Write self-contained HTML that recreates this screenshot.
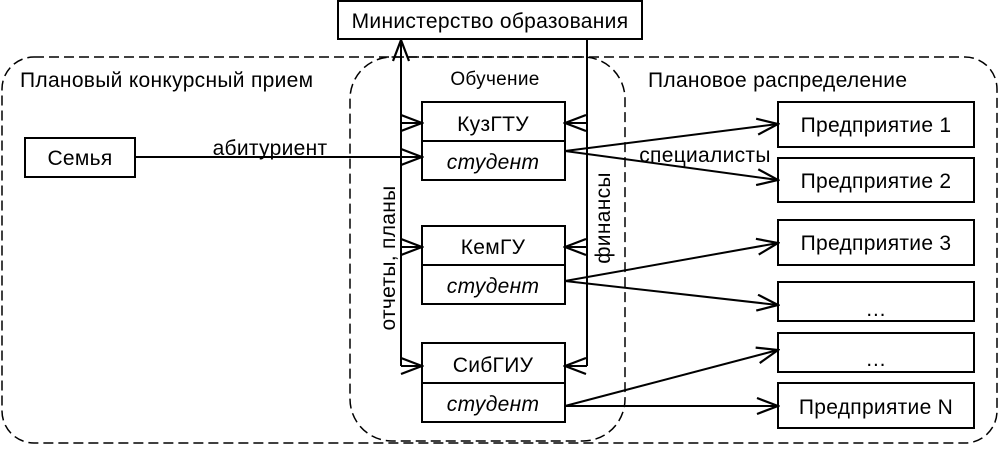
<!DOCTYPE html>
<html><head><meta charset="utf-8"><style>
body{margin:0;background:#fff}
text{font-family:"Liberation Sans",sans-serif;font-size:21px;letter-spacing:0.3px;fill:#000}
</style></head><body>
<svg width="999" height="446" viewBox="0 0 999 446" xmlns="http://www.w3.org/2000/svg">
<defs><marker id="a" markerWidth="24" markerHeight="18" refX="22" refY="9" orient="auto" markerUnits="userSpaceOnUse"><path d="M1,1 L22,9 L1,17" fill="none" stroke="#000" stroke-width="2.2"/></marker></defs>
<g fill="none" stroke="#000" stroke-width="1.5" stroke-dasharray="10,5">
<rect x="2" y="57" width="995" height="386" rx="32"/>
<rect x="350" y="57" width="275" height="384" rx="42"/>
</g>
<g fill="#fff" stroke="#000" stroke-width="2">
<rect x="338" y="1" width="304" height="38"/>
<rect x="25" y="138" width="110" height="39"/>
<rect x="422" y="102" width="143" height="78"/>
<rect x="422" y="226" width="143" height="78"/>
<rect x="422" y="343" width="143" height="79"/>
<rect x="778" y="102" width="196" height="45"/>
<rect x="778" y="158" width="196" height="44"/>
<rect x="778" y="220" width="196" height="45"/>
<rect x="778" y="282" width="196" height="39"/>
<rect x="778" y="333" width="196" height="39"/>
<rect x="778" y="383" width="196" height="45"/>
</g>
<g stroke="#000" stroke-width="2" fill="none">
<line x1="422" y1="141" x2="565" y2="141"/>
<line x1="422" y1="265" x2="565" y2="265"/>
<line x1="422" y1="383" x2="565" y2="383"/>
<line x1="401" y1="366" x2="401" y2="40" marker-end="url(#a)"/>
<line x1="401" y1="123" x2="422" y2="123" marker-end="url(#a)"/>
<line x1="401" y1="247" x2="422" y2="247" marker-end="url(#a)"/>
<line x1="401" y1="366" x2="422" y2="366" marker-end="url(#a)"/>
<line x1="587" y1="39" x2="587" y2="366"/>
<line x1="587" y1="123" x2="565" y2="123" marker-end="url(#a)"/>
<line x1="587" y1="247" x2="565" y2="247" marker-end="url(#a)"/>
<line x1="587" y1="366" x2="565" y2="366" marker-end="url(#a)"/>
<line x1="135" y1="157" x2="422" y2="157" marker-end="url(#a)"/>
<line x1="565" y1="151" x2="778" y2="124" marker-end="url(#a)"/>
<line x1="565" y1="151" x2="778" y2="180" marker-end="url(#a)"/>
<line x1="565" y1="281" x2="778" y2="243" marker-end="url(#a)"/>
<line x1="565" y1="281" x2="778" y2="305" marker-end="url(#a)"/>
<line x1="565" y1="406" x2="778" y2="350" marker-end="url(#a)"/>
<line x1="565" y1="406" x2="778" y2="406" marker-end="url(#a)"/>
</g>
<text x="490" y="28" text-anchor="middle">Министерство образования</text>
<text x="20" y="87">Плановый конкурсный прием</text>
<text x="648" y="87">Плановое распределение</text>
<text x="495" y="85" text-anchor="middle" style="font-size:19px">Обучение</text>
<text x="80" y="165" text-anchor="middle">Семья</text>
<text x="270" y="155" text-anchor="middle">абитуриент</text>
<text x="493" y="131" text-anchor="middle">КузГТУ</text>
<text x="493" y="169" text-anchor="middle" font-style="italic">студент</text>
<text x="493" y="254" text-anchor="middle">КемГУ</text>
<text x="493" y="293" text-anchor="middle" font-style="italic">студент</text>
<text x="493" y="372" text-anchor="middle">СибГИУ</text>
<text x="493" y="411" text-anchor="middle" font-style="italic">студент</text>
<text x="705" y="162" text-anchor="middle">специалисты</text>
<text x="876" y="132" text-anchor="middle">Предприятие 1</text>
<text x="876" y="188" text-anchor="middle">Предприятие 2</text>
<text x="876" y="250" text-anchor="middle">Предприятие 3</text>
<text x="876" y="316" text-anchor="middle">…</text>
<text x="876" y="366" text-anchor="middle">…</text>
<text x="876" y="414" text-anchor="middle">Предприятие N</text>
<text transform="translate(395,258) rotate(-90)" text-anchor="middle">отчеты,  планы</text>
<text transform="translate(610,218) rotate(-90)" text-anchor="middle">финансы</text>
</svg>
</body></html>
